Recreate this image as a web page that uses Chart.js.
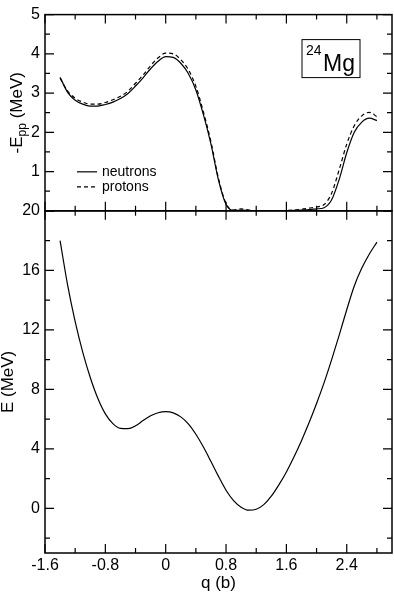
<!DOCTYPE html>
<html>
<head>
<meta charset="utf-8">
<script src="https://cdn.jsdelivr.net/npm/chart.js@4/dist/chart.umd.min.js"></script>
<style>
  html, body { margin: 0; padding: 0; background: #fff; }
  #wrap { width: 394px; height: 594px; }
</style>
</head>
<body>
<div id="wrap"><canvas id="chart" width="394" height="594"></canvas></div>
<script>
// deformation q (b), sampled every 0.1
const qValues = [-1.4, -1.3, -1.2, -1.1, -1.0, -0.9, -0.8, -0.7, -0.6, -0.5, -0.4, -0.3, -0.2, -0.1,
  0.0, 0.1, 0.2, 0.3, 0.4, 0.5, 0.6, 0.7, 0.8, 0.9, 1.0, 1.1, 1.2, 1.3, 1.4, 1.5, 1.6, 1.7, 1.8,
  1.9, 2.0, 2.1, 2.2, 2.3, 2.4, 2.5, 2.6, 2.7, 2.8];

// -E_pp (MeV), top panel
const neutrons = [3.40, 3.02, 2.82, 2.72, 2.67, 2.67, 2.71, 2.77, 2.86, 2.99, 3.18, 3.39, 3.62, 3.81,
  3.93, 3.91, 3.76, 3.50, 3.08, 2.45, 1.70, 0.78, 0.16, 0.01, 0.02, 0.01, 0.00, 0.00, 0.00, 0.00, 0.00,
  0.01, 0.02, 0.03, 0.05, 0.08, 0.28, 0.80, 1.48, 2.00, 2.26, 2.36, 2.30];
const protons = [3.38, 3.05, 2.87, 2.77, 2.72, 2.72, 2.76, 2.83, 2.92, 3.05, 3.25, 3.46, 3.70, 3.90,
  4.02, 4.00, 3.85, 3.60, 3.17, 2.52, 1.76, 0.82, 0.19, 0.02, 0.05, 0.02, 0.00, 0.00, 0.00, 0.00, 0.01,
  0.02, 0.04, 0.07, 0.10, 0.16, 0.45, 1.05, 1.70, 2.17, 2.42, 2.51, 2.40];

// E (MeV), bottom panel
const energy = [18.0, 15.0, 12.55, 10.5, 8.8, 7.4, 6.35, 5.7, 5.38, 5.36, 5.55, 5.9, 6.22, 6.43,
  6.50, 6.42, 6.15, 5.68, 4.98, 4.12, 3.15, 2.15, 1.22, 0.52, 0.08, -0.12, -0.06, 0.25, 0.82, 1.58, 2.45,
  3.45, 4.55, 5.75, 7.05, 8.45, 10.0, 11.65, 13.35, 14.95, 16.15, 17.1, 17.9];

const qTicks = [-1.6, -0.8, 0, 0.8, 1.6, 2.4];
const pairTicks = [0, 1, 2, 3, 4, 5];
const energyTicks = [0, 4, 8, 12, 16, 20];

const FONT = 'Liberation Sans, Arial, Helvetica, sans-serif';

const toPoints = (ys) => qValues.map((q, i) => ({ x: q, y: ys[i] }));
const setTicks = (list) => (scale) => { scale.ticks = list.map(v => ({ value: v })); };

// frame boxes, inward ticks, legend, subscripted title and nucleus label
const framePlugin = {
  id: 'frame',
  afterDatasetsDraw(chart) {
    const ctx = chart.ctx;
    const x = chart.scales.x;
    const yP = chart.scales.yPair;
    const yE = chart.scales.y;
    const major = 9, minor = 5;

    ctx.save();
    ctx.strokeStyle = '#000';
    ctx.setLineDash([]);

    [yP, yE].forEach(ys => {
      ctx.lineWidth = 1.5;
      ctx.strokeRect(x.left, ys.top, x.right - x.left, ys.bottom - ys.top);
      ctx.lineWidth = 1.2;
      ctx.beginPath();
      // x ticks, top and bottom of each panel
      const xt = x.ticks.map(t => t.value);
      const xh = (xt[1] - xt[0]) / 2;
      for (let k = 0; xt[0] + k * xh <= x.max + 1e-9; k++) {
        const px = x.getPixelForValue(xt[0] + k * xh);
        const len = k % 2 === 0 ? major : minor;
        ctx.moveTo(px, ys.top); ctx.lineTo(px, ys.top + len);
        ctx.moveTo(px, ys.bottom); ctx.lineTo(px, ys.bottom - len);
      }
      // y ticks, left and right
      const yt = ys.ticks.map(t => t.value);
      const yh = (yt[1] - yt[0]) / 2;
      const start = yt[0] - Math.floor((yt[0] - ys.min) / yh + 1e-9) * yh;
      for (let k = 0; start + k * yh <= ys.max + 1e-9; k++) {
        const v = start + k * yh;
        const py = ys.getPixelForValue(v);
        const isMajor = Math.abs(Math.round((v - yt[0]) / yh)) % 2 === 0;
        const len = isMajor ? major : minor;
        ctx.moveTo(x.left, py); ctx.lineTo(x.left + len, py);
        ctx.moveTo(x.right, py); ctx.lineTo(x.right - len, py);
      }
      ctx.stroke();
    });

    // legend inside the top panel
    ctx.fillStyle = '#000';
    ctx.font = '14px ' + FONT;
    ctx.textBaseline = 'middle';
    ctx.textAlign = 'left';
    chart.data.datasets.slice(0, 2).forEach((ds, i) => {
      const ly = yP.bottom - 39 + i * 15;
      ctx.lineWidth = 1.2;
      ctx.setLineDash(ds.borderDash || []);
      ctx.beginPath();
      ctx.moveTo(x.left + 32, ly);
      ctx.lineTo(x.left + 52, ly);
      ctx.stroke();
      ctx.setLineDash([]);
      ctx.fillText(ds.label, x.left + 57, ly);
    });

    // nucleus label box
    const bx = x.right - 90, by = yP.top + 25;
    ctx.lineWidth = 1;
    ctx.strokeRect(bx, by, 58, 38);
    ctx.textBaseline = 'alphabetic';
    ctx.font = '14px ' + FONT;
    ctx.fillText('24', bx + 4, by + 15);
    ctx.font = '23px ' + FONT;
    ctx.fillText('Mg', bx + 21, by + 31);

    // rotated title with subscript for the top panel
    const parts = [
      { t: '-E', size: 17, dy: 0 },
      { t: 'pp', size: 12, dy: 4 },
      { t: ' (MeV)', size: 17, dy: 0 }
    ];
    let total = 0;
    parts.forEach(p => { ctx.font = p.size + 'px ' + FONT; p.w = ctx.measureText(p.t).width; total += p.w; });
    ctx.translate(yP.left + 22, (yP.top + yP.bottom) / 2);
    ctx.rotate(-Math.PI / 2);
    let cx = -total / 2;
    parts.forEach(p => {
      ctx.font = p.size + 'px ' + FONT;
      ctx.fillText(p.t, cx, p.dy);
      cx += p.w;
    });
    ctx.restore();
  }
};

new Chart(document.getElementById('chart'), {
  type: 'line',
  data: {
    datasets: [
      {
        label: 'neutrons',
        data: toPoints(neutrons),
        yAxisID: 'yPair',
        borderColor: '#000',
        borderWidth: 1.2,
        pointRadius: 0,
        cubicInterpolationMode: 'monotone'
      },
      {
        label: 'protons',
        data: toPoints(protons),
        yAxisID: 'yPair',
        borderColor: '#000',
        borderWidth: 1.2,
        borderDash: [4, 3],
        pointRadius: 0,
        cubicInterpolationMode: 'monotone'
      },
      {
        label: 'E',
        data: toPoints(energy),
        yAxisID: 'y',
        borderColor: '#000',
        borderWidth: 1.2,
        pointRadius: 0,
        cubicInterpolationMode: 'monotone'
      }
    ]
  },
  options: {
    responsive: false,
    animation: false,
    devicePixelRatio: 1,
    layout: { padding: { top: 7, right: 2, left: 0, bottom: 0 } },
    plugins: {
      legend: { display: false },
      tooltip: { enabled: false }
    },
    scales: {
      x: {
        type: 'linear',
        min: -1.6,
        max: 3.0,
        afterBuildTicks: setTicks(qTicks),
        afterFit: (s) => { s.height = 41; },
        grid: { display: false, drawTicks: false },
        border: { display: false },
        ticks: {
          autoSkip: false,
          maxRotation: 0,
          padding: 3,
          color: '#000',
          font: { family: FONT, size: 16 },
          callback: (v) => String(Number(v.toFixed(1)))
        },
        title: {
          display: true,
          text: 'q (b)',
          color: '#000',
          font: { family: FONT, size: 17, lineHeight: 1 },
          padding: { top: 0, bottom: 2 }
        }
      },
      y: {
        type: 'linear',
        position: 'left',
        stack: 'panels',
        stackWeight: 347,
        weight: 1,
        min: -3,
        max: 20,
        afterBuildTicks: setTicks(energyTicks),
        afterFit: (s) => { s.width = 45; },
        grid: { display: false, drawTicks: false },
        border: { display: false },
        ticks: {
          autoSkip: false,
          padding: 5,
          color: '#000',
          font: { family: FONT, size: 16 }
        },
        title: {
          display: true,
          text: 'E (MeV)',
          color: '#000',
          font: { family: FONT, size: 17, lineHeight: 1 },
          padding: 0
        }
      },
      yPair: {
        type: 'linear',
        position: 'left',
        stack: 'panels',
        stackWeight: 199,
        weight: 2,
        min: 0,
        max: 5,
        afterBuildTicks: setTicks(pairTicks),
        afterFit: (s) => { s.width = 45; },
        grid: { display: false, drawTicks: false },
        border: { display: false },
        ticks: {
          autoSkip: false,
          padding: 5,
          color: '#000',
          font: { family: FONT, size: 16 },
          callback: (v) => (v === 0 ? '' : String(v))
        }
      }
    }
  },
  plugins: [framePlugin]
});
</script>
</body>
</html>
